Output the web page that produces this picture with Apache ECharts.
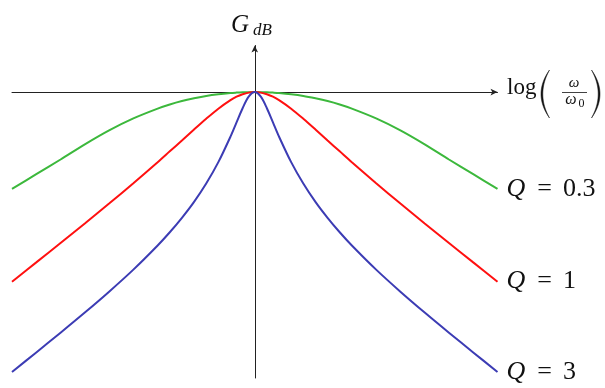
<!DOCTYPE html>
<html>
<head>
<meta charset="utf-8">
<script src="https://cdn.jsdelivr.net/npm/echarts@6/dist/echarts.min.js"></script>
<style>
  html, body { margin: 0; padding: 0; background: #ffffff; }
  #chart { width: 605px; height: 388px; }
</style>
</head>
<body>
<div id="chart"></div>
<script>
// Normalised frequency, log10(ω/ω0), in decades
const logW = [
  -1.0, -0.9, -0.8, -0.7, -0.6, -0.5, -0.4, -0.35, -0.3, -0.25, -0.2, -0.15, -0.1, -0.075, -0.05, -0.025,
  0,
  0.025, 0.05, 0.075, 0.1, 0.15, 0.2, 0.25, 0.3, 0.35, 0.4, 0.5, 0.6, 0.7, 0.8, 0.9, 1.0
];

// Gain in dB for each quality factor
const gainQ03 = [
  -10.20, -8.65, -7.10, -5.50, -4.03, -2.77, -1.74, -1.31, -0.95, -0.66, -0.41, -0.23, -0.10, -0.06, -0.03, -0.01,
  0,
  -0.01, -0.03, -0.06, -0.10, -0.23, -0.41, -0.66, -0.95, -1.31, -1.74, -2.77, -4.03, -5.50, -7.10, -8.65, -10.20
];
const gainQ1 = [
  -19.96, -17.93, -15.89, -13.83, -11.74, -9.59, -7.38, -6.24, -5.10, -3.94, -2.81, -1.75, -0.85, -0.49, -0.23, -0.06,
  0,
  -0.06, -0.23, -0.49, -0.85, -1.75, -2.81, -3.94, -5.10, -6.24, -7.38, -9.59, -11.74, -13.83, -15.89, -17.93, -19.96
];
const gainQ3 = [
  -29.46, -27.41, -25.33, -23.21, -21.01, -18.69, -16.15, -14.76, -13.24, -11.56, -9.63, -7.38, -4.69, -3.19, -1.70, -0.49,
  0,
  -0.49, -1.70, -3.19, -4.69, -7.38, -9.63, -11.56, -13.24, -14.76, -16.15, -18.69, -21.01, -23.21, -25.33, -27.41, -29.46
];

const qValues = ['0.3', '1', '3'];
const curveColors = ['#3cb83c', '#ff1010', '#3c3cb4'];

const SERIF = "'Liberation Serif', 'DejaVu Serif', serif";
const AXIS_COLOR = '#222';
const INK = '#111';

const chart = echarts.init(document.getElementById('chart'), null, { renderer: 'canvas' });

function pairs(values) {
  return logW.map((x, i) => [x, values[i]]);
}

function curve(values, idx) {
  return {
    type: 'line',
    data: pairs(values),
    smooth: 0.3,
    showSymbol: false,
    silent: true,
    z: 3,
    lineStyle: { color: curveColors[idx], width: 2 },
    endLabel: {
      show: true,
      distance: 9,
      offset: [0, 0],
      formatter: '{q|Q}{e|=}{n|' + qValues[idx] + '}',
      rich: {
        q: { fontFamily: SERIF, fontStyle: 'italic', fontSize: 26, color: INK },
        e: { fontFamily: SERIF, fontSize: 26, color: INK, padding: [0, 11, 0, 12] },
        n: { fontFamily: SERIF, fontSize: 26, color: INK }
      }
    }
  };
}

// Thin LaTeX-style parenthesis drawn as a filled crescent outline
function paren(xTip, xBulge, top, bottom, thick) {
  const mid = (top + bottom) / 2;
  const pts = [];
  const steps = 24;
  const quad = (t, ctrl) => {
    const a = (1 - t) * (1 - t), b = 2 * (1 - t) * t, c = t * t;
    return [a * xTip + b * ctrl + c * xTip, a * top + b * mid + c * bottom];
  };
  for (let i = 0; i <= steps; i++) pts.push(quad(i / steps, xBulge));
  const inner = xBulge + thick;
  for (let i = steps; i >= 0; i--) pts.push(quad(i / steps, inner));
  return {
    type: 'polygon',
    shape: { points: pts },
    style: { fill: INK, stroke: INK, lineWidth: 0.5 }
  };
}

function label(text, x, y, font, align) {
  return {
    type: 'text', x: x, y: y, silent: true,
    style: { text: text, font: font, fill: INK, align: align || 'left', verticalAlign: 'middle' }
  };
}

const option = {
  animation: false,
  backgroundColor: '#ffffff',
  grid: { left: 12, right: 107.5, top: 45.5, bottom: 10, containLabel: false },
  xAxis: {
    type: 'value',
    min: -1,
    max: 1,
    axisLine: {
      show: true,
      onZero: true,
      symbol: ['none', 'arrow'],
      symbolSize: [5, 7],
      lineStyle: { color: AXIS_COLOR, width: 1 }
    },
    axisTick: { show: false },
    axisLabel: { show: false },
    splitLine: { show: false }
  },
  yAxis: {
    type: 'value',
    min: -30.1,
    max: 4.9,
    axisLine: {
      show: true,
      onZero: true,
      symbol: ['none', 'arrow'],
      symbolSize: [5, 7],
      lineStyle: { color: AXIS_COLOR, width: 1 }
    },
    axisTick: { show: false },
    axisLabel: { show: false },
    splitLine: { show: false }
  },
  series: [curve(gainQ03, 0), curve(gainQ1, 1), curve(gainQ3, 2)],
  graphic: [
    // vertical axis name: G_dB
    label('G', 231, 25.5, 'italic 25px ' + SERIF),
    label('dB', 253, 31, 'italic 17px ' + SERIF),
    // horizontal axis name: log(ω/ω0)
    label('log', 507, 88, '23px ' + SERIF),
    paren(549.5, 532.5, 70, 118, 3.6),
    label('ω', 574, 83, 'italic 15px ' + SERIF, 'center'),
    { type: 'line', silent: true, shape: { x1: 562, y1: 92.5, x2: 587, y2: 92.5 },
      style: { stroke: INK, lineWidth: 0.8 } },
    label('ω', 571, 100, 'italic 16px ' + SERIF, 'center'),
    label('0', 578.5, 103.5, '12px ' + SERIF),
    paren(591.5, 608.5, 70, 118, -3.6)
  ]
};

chart.setOption(option);
</script>
</body>
</html>
